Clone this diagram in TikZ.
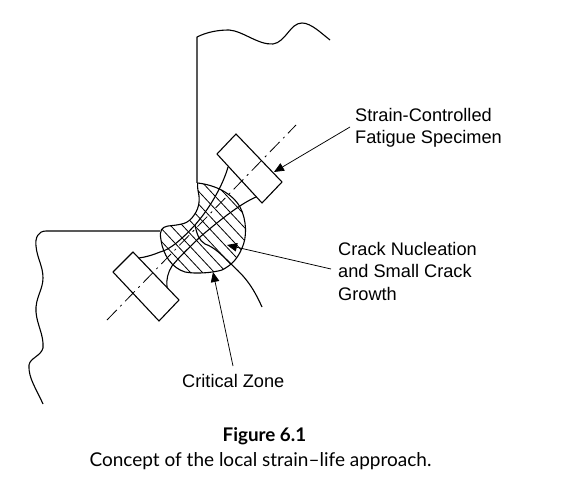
\documentclass[tikz,border=0pt]{standalone}
\usepackage{fontspec}
\setmainfont{Liberation Sans}
\newfontfamily\capfont{Lato}
\usetikzlibrary{arrows.meta}
\tikzset{
 ln/.style={line width=1.1pt,line join=round},
 thin ln/.style={line width=0.8pt},
 lead/.style={line width=0.75pt,-{Triangle[length=10pt,width=8.5pt]}},
 lbl/.style={font=\fontsize{18.2}{22.6}\selectfont,align=left,inner sep=0pt,anchor=north west},
}
\begin{document}
\begin{tikzpicture}[x=1pt,y=-1pt]
\useasboundingbox (0,0) rectangle (583,497);
% outer profile
\draw[ln] (197,183) -- (197,37) .. controls (207,32) and (218,30) .. (229,30) .. controls (243,31) and (258,45) .. (273,44) .. controls (286,42) and (290,23) .. (302,23) .. controls (311,23) and (321,33) .. (330,40);
\draw[ln] (160,231) -- (46,231) .. controls (38,231) and (35,238) .. (36,246) .. controls (37,258) and (43,266) .. (43,278) .. controls (43,290) and (35,298) .. (36,312) .. controls (37,325) and (44,335) .. (43,348) .. controls (41,356) and (30,358) .. (29,365) .. controls (28,378) and (37,390) .. (43,404);
% zone
\def\zonepath{(197.7,183) .. controls (215,185) and (232,193) .. (240,207) .. controls (247,220) and (247,238) .. (242,248) .. controls (238,258) and (232,265) .. (222,270) .. controls (212,273) and (195,274) .. (185,272) .. controls (172,268) and (163,255) .. (161,240) .. controls (159,230) and (162,227) .. (168,226) .. controls (178,225) and (186,224) .. (190,220) .. controls (197,213) and (200,205) .. (199,196) .. controls (198.5,192) and (197,188) .. (197.7,183) -- cycle}
\begin{scope}
\clip \zonepath;
\foreach \d in {-70,-58,...,130}{
 \draw[thin ln] (150+\d,180) -- (250+\d,287);
}
\end{scope}
\draw[ln] \zonepath;
% specimen
\draw[ln] (217,154) coordinate (r1a) -- (236,134) coordinate (r1b) -- (282,182) coordinate (r1c) -- (262,203) coordinate (r1d) -- cycle;
\draw[ln] (113,272) coordinate (r2a) -- (133,252) coordinate (r2b) -- (179,300) coordinate (r2c) -- (159,321) coordinate (r2d) -- cycle;
\coordinate (n1) at (228,167);
\coordinate (n2) at (256,197);
\coordinate (n3) at (139,258);
\coordinate (n4) at (167,287);
\draw[ln] (n1) .. controls (223,185) and (210,208) .. (195,225) .. controls (183,238) and (170,250) .. (160,252) .. controls (153,255) and (146,257) .. (n3);
\draw[ln] (n2) .. controls (240,204) and (220,220) .. (200,237) .. controls (190,247) and (180,256) .. (172,266) .. controls (168,272) and (166,280) .. (n4);
% crack
\draw[ln] (195,225) .. controls (197,235) and (199,240) .. (205,244) .. controls (214,247) and (222,255) .. (230,263) .. controls (240,273) and (250,280) .. (262,307);
% centre line
\coordinate (c1) at (107,320);
\coordinate (c2) at (296,125);
\draw[thin ln,dash pattern=on 14pt off 5pt on 2pt off 5pt] (c1) -- (c2);
% labels
\node[lbl] (t1) at (355,108) {Strain-Controlled\\Fatigue Specimen};
\node[lbl] (t2) at (338,242) {Crack Nucleation\\and Small Crack\\Growth};
\node[lbl] (t3) at (182,374) {Critical Zone};
\coordinate (a1s) at (350,127);
\coordinate (a1e) at (274,172);
\coordinate (a2s) at (331,269);
\coordinate (a2e) at (227,245);
\coordinate (a3s) at (233,366);
\coordinate (a3e) at (213,272);
\draw[lead] (a1s) -- (a1e);
\draw[lead] (a2s) -- (a2e);
\draw[lead] (a3s) -- (a3e);
% caption
\node[font=\capfont\bfseries\fontsize{18.8}{22}\selectfont,inner sep=0pt] (cap1) at (264.5,436) {Figure 6.1};
\node[font=\capfont\fontsize{19}{22}\selectfont,inner sep=0pt] (cap2) at (260.5,461) {Concept of the local strain–life approach.};
\end{tikzpicture}
\end{document}
